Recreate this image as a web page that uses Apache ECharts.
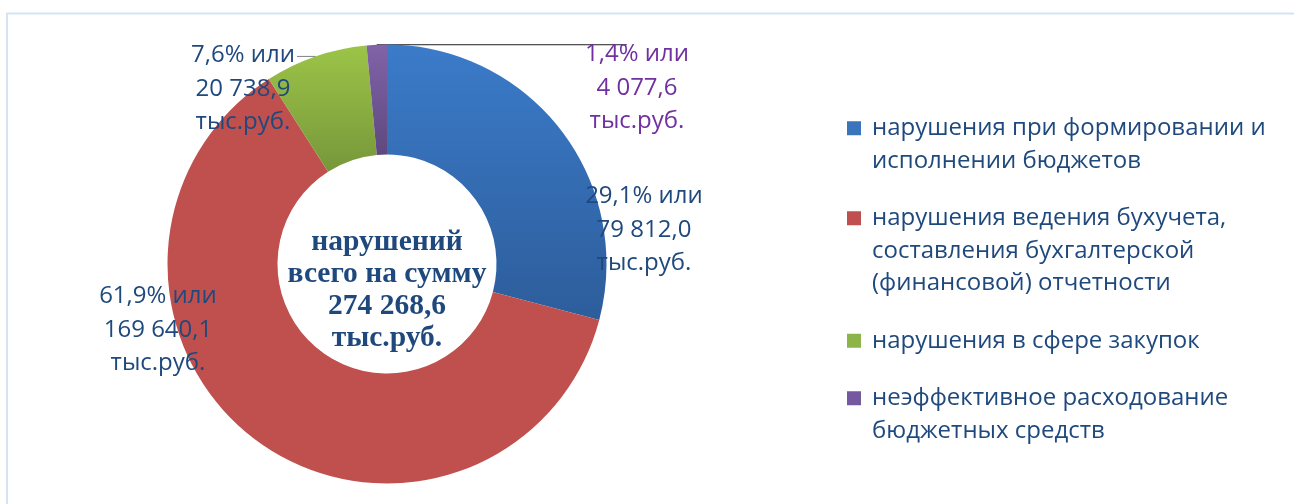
<!DOCTYPE html>
<html>
<head>
<meta charset="utf-8">
<script src="https://cdn.jsdelivr.net/npm/echarts@6/dist/echarts.min.js"></script>
<style>
html,body{margin:0;padding:0;background:#fff;}
#c{width:1294px;height:504px;}
</style>
</head>
<body>
<div id="c"></div>
<script>
// ---- data ----
const categories = [
  'нарушения при формировании и исполнении бюджетов',
  'нарушения ведения бухучета, составления бухгалтерской (финансовой) отчетности',
  'нарушения в сфере закупок',
  'неэффективное расходование бюджетных средств'
];
const legendLines = [
  ['нарушения при формировании и', 'исполнении бюджетов'],
  ['нарушения ведения бухучета,', 'составления бухгалтерской', '(финансовой) отчетности'],
  ['нарушения в сфере закупок'],
  ['неэффективное расходование', 'бюджетных средств']
];
const values = [79812.0, 169640.1, 20738.9, 4077.6];
const percents = [29.1, 61.9, 7.6, 1.4];
const centerLines = ['нарушений', 'всего на сумму', '', 'тыс.руб.'];

// ---- styling ----
const textColor = '#1f497d';
const sliceColors = [
  {type:'linear',x:0,y:0,x2:0,y2:1,colorStops:[{offset:0,color:'#3b7bc9'},{offset:1,color:'#2d5d9b'}]},
  '#c0504d',
  {type:'linear',x:0,y:0,x2:0,y2:1,colorStops:[{offset:0,color:'#9cc448'},{offset:1,color:'#77973a'}]},
  {type:'linear',x:0,y:0,x2:0,y2:1,colorStops:[{offset:0,color:'#8163a9'},{offset:1,color:'#5e497d'}]}
];
const legendSquare = ['#3a74bd','#c0504d','#8db448','#7459a0'];
const labelColors = [textColor, textColor, textColor, '#7030a0'];
const labelPos = [[644,230],[158,330],[243,89],[637,88]];
const lineColors = [null, null, '#808080', '#202020'];

function fmt(v){
  const s = v.toFixed(1).split('.');
  return s[0].replace(/\B(?=(\d{3})+(?!\d))/g, ' ') + ',' + s[1];
}
const total = values.reduce((a,b)=>a+b,0);
centerLines[2] = fmt(total);

const chart = echarts.init(document.getElementById('c'), null, {renderer:'canvas'});

const rich = {
  t:{fontSize:24,fontFamily:'Open Sans',color:textColor,lineHeight:32.5,verticalAlign:'middle'},
  gap:{width:11,lineHeight:32.5},
  ind:{width:25,lineHeight:32.5}
};
legendSquare.forEach((c,i)=>{ rich['s'+i] = {width:14,height:14,backgroundColor:c,verticalAlign:'middle',lineHeight:32.5}; });

const option = {
  animation:false,
  backgroundColor:'#fff',
  graphic:[
    {type:'rect',z:-10,shape:{x:7,y:13.5,width:1400,height:600},style:{fill:'none',stroke:'#d5e3f3',lineWidth:2},silent:true},
    {type:'text',x:387,y:290,z:10,style:{
      text:centerLines.join('\n'),
      font:'bold 29.5px "Liberation Serif", "Times New Roman", serif',
      fill:textColor,align:'center',verticalAlign:'middle',lineHeight:32
    }}
  ],
  legend:{
    orient:'vertical',
    left:837, top:107,
    itemWidth:0, itemHeight:14, itemGap:25,
    itemStyle:{opacity:0},
    selectedMode:false,
    data:categories,
    textStyle:{fontSize:24,fontFamily:'Open Sans',color:textColor,lineHeight:32.5,rich:rich},
    formatter:function(name){
      const i = categories.indexOf(name);
      return legendLines[i].map((l,k)=> (k===0 ? '{s'+i+'| }{gap| }' : '{ind| }') + '{t|' + l + '}').join('\n');
    }
  },
  series:[{
    type:'pie',
    center:[387,264],
    radius:[109.5,219.5],
    startAngle:90,
    clockwise:true,
    avoidLabelOverlap:false,
    itemStyle:{borderWidth:0},
    emphasis:{disabled:true},
    label:{
      show:true,position:'outside',
      fontSize:24,fontFamily:'Open Sans',lineHeight:33.5,color:textColor,
      formatter:function(p){
        const pct = percents[p.dataIndex].toFixed(1).replace('.',',');
        return pct + '% или\n' + fmt(p.value) + '\nтыс.руб.';
      }
    },
    labelLine:{show:false,length:0,length2:10},
    labelLayout:function(p){
      const xy = labelPos[p.dataIndex];
      const o = {x:xy[0],y:xy[1],align:'center',verticalAlign:'middle'};
      if ((p.dataIndex===2 || p.dataIndex===3) && p.labelLinePoints){
        const a = p.labelLinePoints[0];
        const w = p.rect.width/2;
        const ex = p.dataIndex===2 ? xy[0]+w : xy[0]-w;
        o.labelLinePoints = [[a[0],a[1]],[ex,a[1]]];
      }
      return o;
    },
    data:categories.map((n,i)=>({
      name:n,
      value:values[i],
      itemStyle:{color:sliceColors[i]},
      label:{color:labelColors[i]},
      labelLine:{show:!!lineColors[i],lineStyle:{color:lineColors[i]||'#000',width:1}}
    }))
  }]
};
chart.setOption(option);
</script>
</body>
</html>
